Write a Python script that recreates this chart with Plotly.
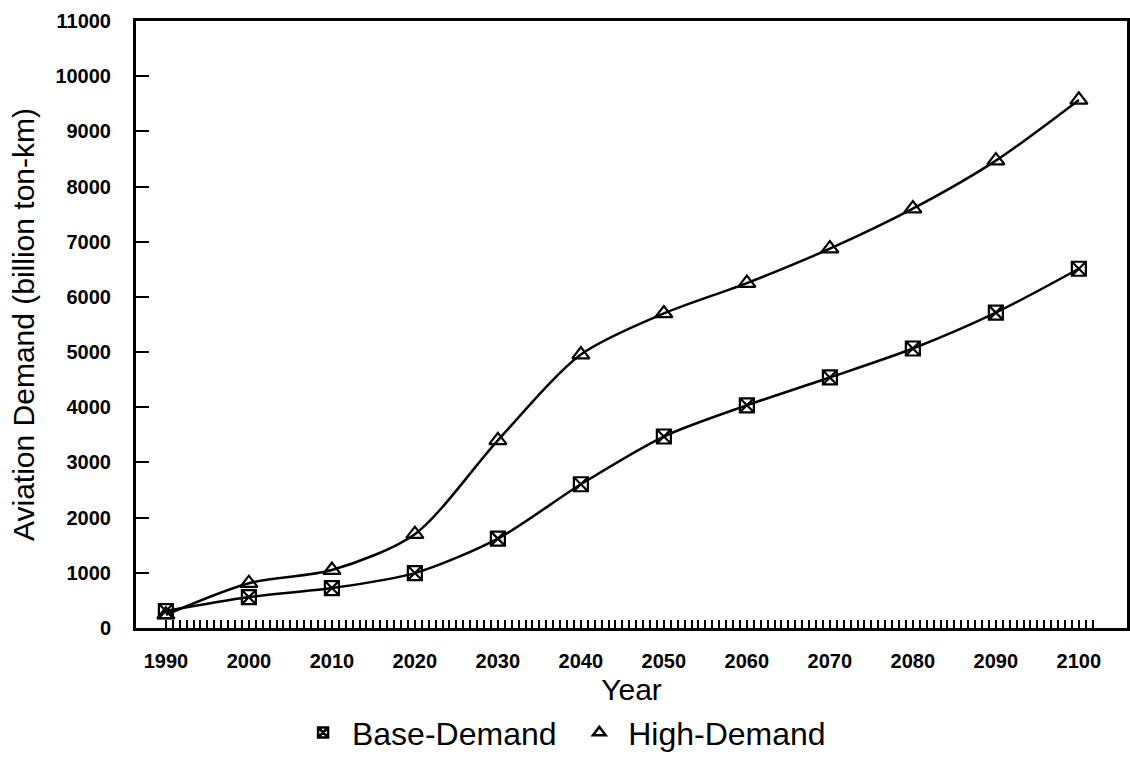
import plotly.graph_objects as go

years = [1990, 2000, 2010, 2020, 2030, 2040, 2050, 2060, 2070, 2080, 2090, 2100]
base_demand = [307, 560, 724, 995, 1620, 2605, 3470, 4035, 4540, 5065, 5715, 6510]
high_demand = [240, 812, 1050, 1700, 3400, 4955, 5700, 6250, 6875, 7600, 8470, 9570]
y_ticks = list(range(0, 11001, 1000))
y_labels = [str(v) for v in y_ticks]

# x-axis: labelled decade ticks plus small unlabelled ticks (12 per decade, 1990..~2102)
tick_step = 10 / 12
all_x = [round(1990 + tick_step * i, 3) for i in range(135)]
minor_x = [v for v in all_x if all(abs(v - y) > 0.1 for y in years)]
x_tickvals = years + minor_x
x_ticktext = [str(y) for y in years] + [""] * len(minor_x)

font_family = "Liberation Sans, Arial, sans-serif"
series = [("\u00a0Base-Demand\u00a0\u00a0", base_demand, "square-x-open", 14, 10),
          ("\u00a0High-Demand", high_demand, "triangle-up-open", 15, 11)]

fig = go.Figure()
for name, vals, sym, size, lsize in series:
    fig.add_trace(go.Scatter(
        x=years, y=vals, name=name.strip("\u00a0"), mode="lines+markers", showlegend=False,
        line=dict(color="black", width=2.5, shape="spline", smoothing=0.8),
        marker=dict(symbol=sym, size=size, color="black", line=dict(width=2.2))))
for name, vals, sym, size, lsize in series:
    fig.add_trace(go.Scatter(
        x=[None], y=[None], name=name, mode="markers", showlegend=True,
        marker=dict(symbol=sym, size=lsize, color="black", line=dict(width=2.5))))

fig.update_layout(
    width=1130, height=766,
    margin=dict(l=136, r=3, t=21, b=138, autoexpand=False),
    plot_bgcolor="white", paper_bgcolor="white",
    font=dict(family=font_family, color="black"),
    showlegend=True,
    legend=dict(orientation="h", x=0.435, xanchor="center", y=-0.127, yanchor="top",
                font=dict(size=32, family=font_family), itemwidth=30,
                tracegroupgap=0),
)
fig.update_xaxes(
    range=[1986.4, 2105.8], tickvals=x_tickvals, ticktext=x_ticktext,
    ticks="inside", ticklen=8, tickwidth=2, tickcolor="black",
    showline=True, linecolor="black", linewidth=3, mirror=True,
    showgrid=False, zeroline=False, ticklabelstandoff=13, automargin=False,
    tickfont=dict(size=20, family=font_family, weight="bold"),
    title=dict(text="Year", font=dict(size=30, family=font_family), standoff=8),
)
fig.update_yaxes(
    range=[0, 11000], tickvals=y_ticks, ticktext=y_labels,
    ticks="inside", ticklen=13, tickwidth=1.5, tickcolor="black",
    showline=True, linecolor="black", linewidth=3, mirror=True,
    showgrid=False, zeroline=False, ticklabelstandoff=18, automargin=False,
    tickfont=dict(size=20, family=font_family, weight="bold"),
    title=dict(text="Aviation Demand (billion ton-km)", font=dict(size=30, family=font_family), standoff=12),
)

fig.write_html("out.html", config={"displayModeBar": False},
               post_script="document.body.style.margin='0';document.documentElement.style.overflow='hidden';")
